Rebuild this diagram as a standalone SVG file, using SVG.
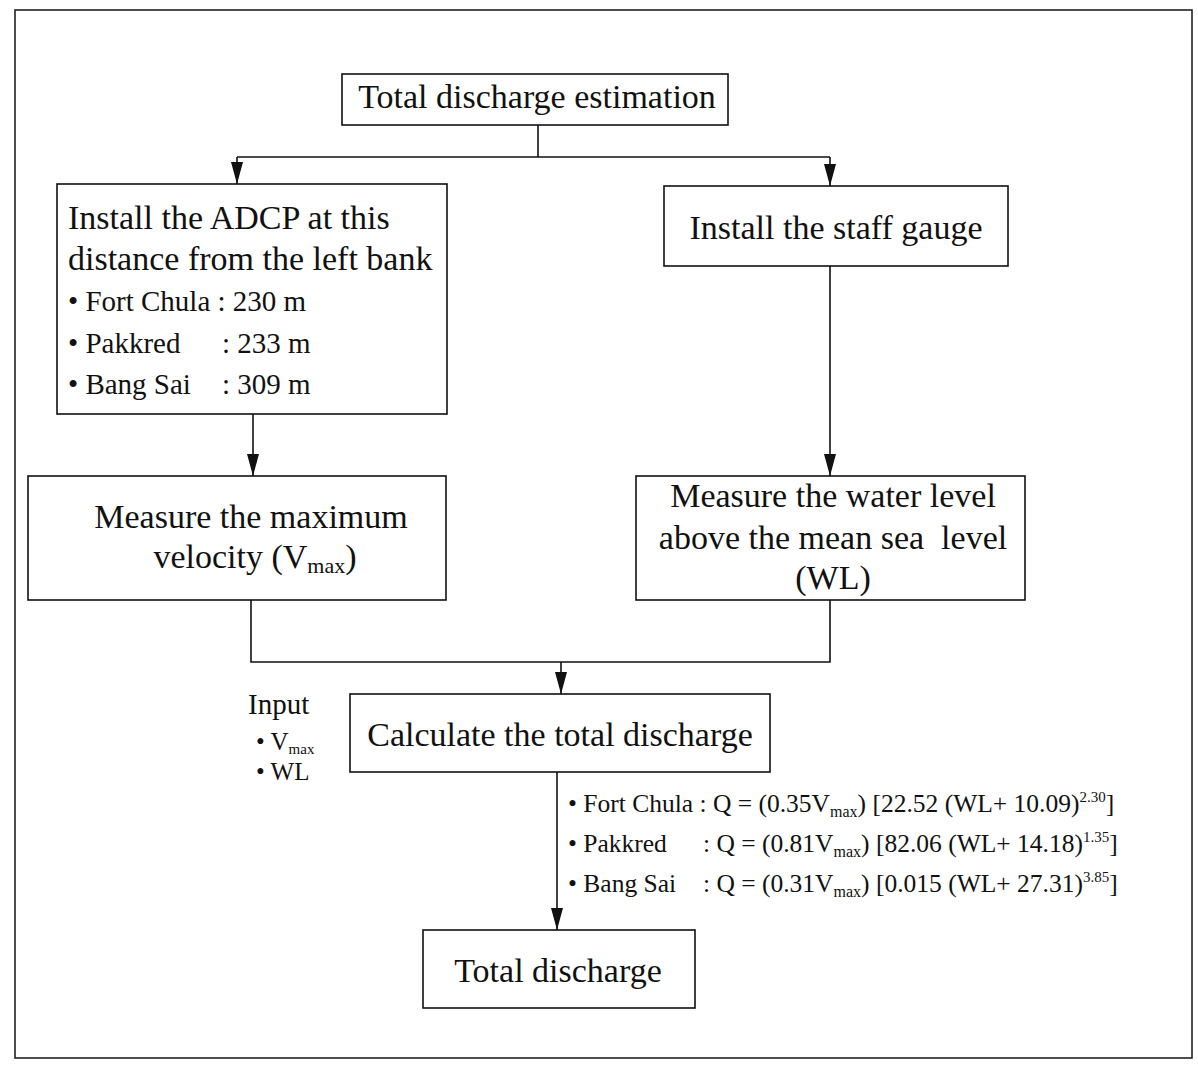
<svg xmlns="http://www.w3.org/2000/svg" width="1198" height="1065" viewBox="0 0 1198 1065">
<defs>
<marker id="arr" markerUnits="userSpaceOnUse" markerWidth="24" markerHeight="14" refX="22" refY="7" orient="auto" viewBox="0 0 24 14">
<path d="M0,1 L22,7 L0,13 Z" fill="#111"/>
</marker>
<style>
.box{fill:#fff;stroke:#111;stroke-width:1.6}
.t{font-family:"Liberation Serif","Times New Roman",serif;fill:#111}
.big{font-size:34px}
.mid{font-size:29px}
.sm{font-size:25.5px}
.c{text-anchor:middle}
.ln{fill:none;stroke:#111;stroke-width:1.6}
</style>
</defs>
<rect x="0" y="0" width="1198" height="1065" fill="#fff"/>
<rect x="15" y="10" width="1177" height="1048" fill="none" stroke="#222" stroke-width="1.6"/>

<g id="connectors">
<path class="ln" d="M538,125 V157"/>
<path class="ln" d="M237,157 H830"/>
<path class="ln" d="M237,157 V184" marker-end="url(#arr)"/>
<path class="ln" d="M830,157 V186" marker-end="url(#arr)"/>
<path class="ln" d="M253,414 V476" marker-end="url(#arr)"/>
<path class="ln" d="M830,266 V476" marker-end="url(#arr)"/>
<path class="ln" d="M251,600 V662 H830 V600"/>
<path class="ln" d="M561,662 V694" marker-end="url(#arr)"/>
<path class="ln" d="M557,772 V930" marker-end="url(#arr)"/>
</g>

<g id="n-estimation">
<rect class="box" x="342" y="74" width="386" height="51"/>
<text class="t big c" x="537" y="108">Total discharge estimation</text>
</g>

<g id="n-adcp">
<rect class="box" x="57" y="184" width="390" height="230"/>
<text class="t big" x="68" y="229">Install the ADCP at this</text>
<text class="t big" x="68" y="270">distance from the left bank</text>
<text class="t mid" x="68" y="311">• Fort Chula : 230 m</text>
<text class="t mid" x="68" y="353">• Pakkred<tspan x="222">: 233 m</tspan></text>
<text class="t mid" x="68" y="394">• Bang Sai<tspan x="222">: 309 m</tspan></text>
</g>

<g id="n-staff">
<rect class="box" x="664" y="186" width="344" height="80"/>
<text class="t big c" x="836" y="239">Install the staff gauge</text>
</g>

<g id="n-vmax">
<rect class="box" x="28" y="476" width="418" height="124"/>
<text class="t big c" x="251" y="528">Measure the maximum</text>
<text class="t big c" x="255" y="568">velocity (V<tspan font-size="22" dy="5">max</tspan><tspan dy="-5">)</tspan></text>
</g>

<g id="n-wl">
<rect class="box" x="636" y="476" width="389" height="124"/>
<text class="t big c" x="833" y="507">Measure the water level</text>
<text class="t big c" x="833" y="549">above the mean sea&#160; level</text>
<text class="t big c" x="833" y="589">(WL)</text>
</g>

<g id="n-input">
<text class="t" font-size="29" x="248" y="714">Input</text>
<text class="t" font-size="25" x="256" y="750">• V<tspan font-size="15" dy="4">max</tspan></text>
<text class="t" font-size="25" x="256" y="780">• WL</text>
</g>

<g id="n-calc">
<rect class="box" x="350" y="694" width="420" height="78"/>
<text class="t big c" x="560" y="746">Calculate the total discharge</text>
</g>

<g id="n-formulas">
<text class="t sm" x="568" y="812">• Fort Chula : Q = (0.35V<tspan font-size="16" dy="5">max</tspan><tspan dy="-5">) [22.52 (WL+ 10.09)</tspan><tspan font-size="15" dy="-10">2.30</tspan><tspan dy="10">]</tspan></text>
<text class="t sm" x="568" y="852">• Pakkred<tspan x="703">: Q = (0.81V</tspan><tspan font-size="16" dy="5">max</tspan><tspan dy="-5">) [82.06 (WL+ 14.18)</tspan><tspan font-size="15" dy="-10">1.35</tspan><tspan dy="10">]</tspan></text>
<text class="t sm" x="568" y="892">• Bang Sai<tspan x="703">: Q = (0.31V</tspan><tspan font-size="16" dy="5">max</tspan><tspan dy="-5">) [0.015 (WL+ 27.31)</tspan><tspan font-size="15" dy="-10">3.85</tspan><tspan dy="10">]</tspan></text>
</g>

<g id="n-total">
<rect class="box" x="423" y="930" width="272" height="78"/>
<text class="t big c" x="558" y="982">Total discharge</text>
</g>
</svg>
